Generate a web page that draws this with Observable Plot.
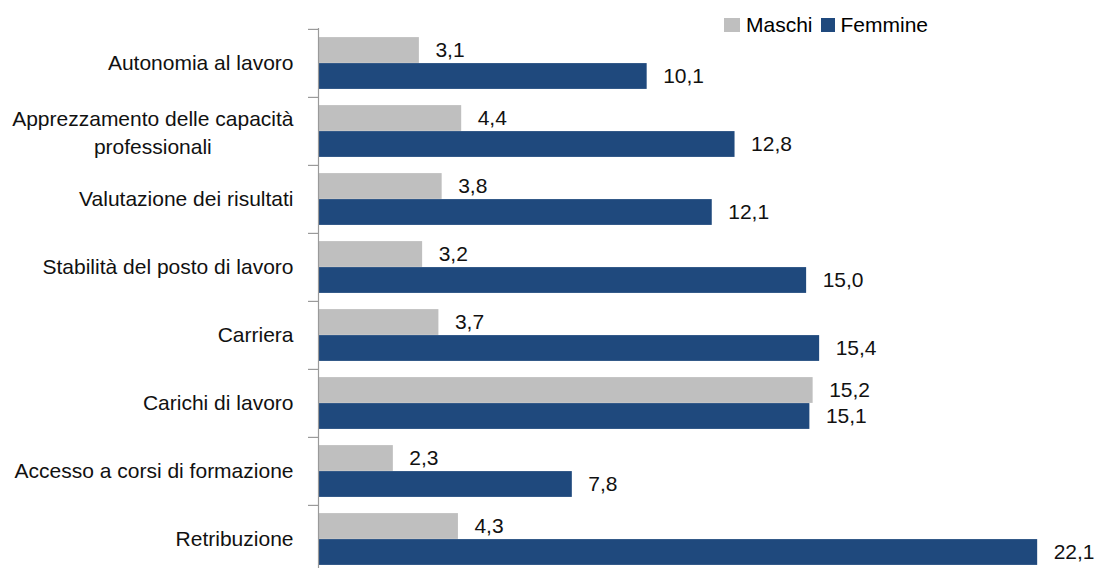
<!DOCTYPE html>
<html><head><meta charset="utf-8">
<script src="https://cdn.jsdelivr.net/npm/d3@7"></script>
<script src="https://cdn.jsdelivr.net/npm/@observablehq/plot@0.6"></script>
<style>
body{margin:0;background:#fff;font-family:"Liberation Sans",Arial,sans-serif;}
#wrap{position:relative;width:1100px;height:568px;overflow:hidden;}
#legend{position:absolute;left:724px;top:13px;display:flex;align-items:center;font-size:21px;color:#000;line-height:24px;}
.sw{display:inline-block;height:14px;margin-right:6px;}
.item{display:flex;align-items:center;margin-right:8px;}
</style></head><body><div id="wrap"><div id="legend"></div></div>
<script>
const categories = ["Autonomia al lavoro","Apprezzamento delle capacità\nprofessionali","Valutazione dei risultati","Stabilità del posto di lavoro","Carriera","Carichi di lavoro","Accesso a corsi di formazione","Retribuzione"];
const series = ["Maschi","Femmine"];
const maschi = [3.1,4.4,3.8,3.2,3.7,15.2,2.3,4.3];
const femmine = [10.1,12.8,12.1,15.0,15.4,15.1,7.8,22.1];
const colors = ["#bfbfbf","#1f497d"];

const rowsM = categories.map((c,i)=>({cat:c, s:series[0], v:maschi[i]}));
const rowsF = categories.map((c,i)=>({cat:c, s:series[1], v:femmine[i]}));
const fmt = d => d.v.toFixed(1).replace(".", ",");

const W=1100, H=568, mt=28, ml=318, mr=1;
const step=68.2;
const mb = H - mt - step*categories.length; // plot area runs slightly past the bottom edge, as in the reference
const bh=26, pad=(step-2*bh)/2;
const FONT = "21px 'Liberation Sans'";
const cv = document.createElement("canvas").getContext("2d");
cv.font = FONT;
const labelGap = 25;
const single = categories.filter(c=>!c.includes("\n"));
const multi = categories.filter(c=>c.includes("\n"));

const labelMarks = multi.map(c=>{
  const w = Math.max(...c.split("\n").map(l=>cv.measureText(l).width));
  return Plot.text([c],{y:d=>d, frameAnchor:"left", dx:-labelGap - w/2, textAnchor:"middle", lineHeight:1.33, fill:"#111"});
});

const chart = Plot.plot({
  width:W, height:H, marginTop:mt, marginBottom:mb, marginLeft:ml, marginRight:mr,
  x:{domain:[0,24], axis:null},
  y:{domain:categories, type:"band", padding:0, axis:null},
  style:{fontFamily:"'Liberation Sans', Arial, sans-serif", fontSize:"21px", background:"transparent"},
  marks:[
    Plot.barX(rowsM,{x:"v", y:"cat", fill:colors[0], insetTop:pad, insetBottom:step-pad-bh}),
    Plot.barX(rowsF,{x:"v", y:"cat", fill:colors[1], insetTop:pad+bh, insetBottom:pad}),
    Plot.text(rowsM,{x:"v", y:"cat", text:fmt, dx:16, dy:-bh/2, textAnchor:"start", fill:"#111"}),
    Plot.text(rowsF,{x:"v", y:"cat", text:fmt, dx:16, dy:bh/2, textAnchor:"start", fill:"#111"}),
    Plot.ruleX([0],{stroke:"#9a9a9a", strokeWidth:1.2}),
    Plot.ruleY(categories,{y:d=>d, x1:0, x2:0, insetLeft:-10, dy:-step/2, stroke:"#9a9a9a", strokeWidth:1.2}),
    Plot.text(single,{y:d=>d, frameAnchor:"left", dx:-labelGap, textAnchor:"end", fill:"#111"}),
    ...labelMarks
  ]
});
const wrap = document.getElementById("wrap");
wrap.insertBefore(chart, wrap.firstChild);

const legend = document.getElementById("legend");
series.forEach((s,i)=>{
  const it = document.createElement("div"); it.className="item";
  const sw = document.createElement("span"); sw.className="sw";
  sw.style.background = colors[i]; sw.style.width = (i===0?16:14)+"px";
  const t = document.createElement("span"); t.textContent = s;
  it.appendChild(sw); it.appendChild(t); legend.appendChild(it);
});
</script></body></html>
